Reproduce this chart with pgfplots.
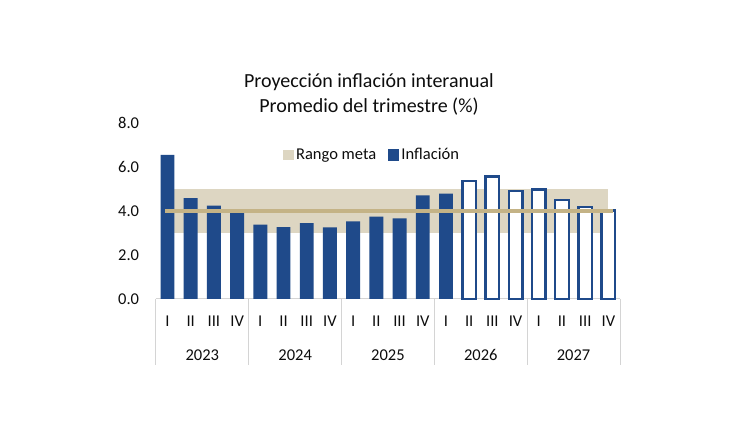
\documentclass[border=0pt]{standalone}
\usepackage{pgfplots}
\pgfplotsset{compat=1.18}
\usepackage{pgfplotstable}
\usepackage{fontspec}
\setmainfont{Carlito}
\definecolor{navy}{HTML}{1F4A8A}
\definecolor{band}{HTML}{DDD6C2}
\definecolor{tline}{HTML}{C4B386}
\definecolor{sepgray}{HTML}{D4D4D4}
\definecolor{txt}{HTML}{0D0D0D}

\pgfplotstableread{
x val
0 6.55
1 4.58
2 4.24
3 3.91
4 3.38
5 3.27
6 3.45
7 3.26
8 3.53
9 3.74
10 3.67
11 4.71
12 4.79
}\actual

\pgfplotstableread{
x val
13 5.37
14 5.56
15 4.90
16 4.97
17 4.49
18 4.17
19 4.02
}\proj

\begin{document}
\begin{tikzpicture}
\path[use as bounding box, fill=white] (0pt,0pt) rectangle (750pt,430pt);
\node[anchor=base, font=\fontsize{20}{24}\selectfont, text=txt] at (369pt,342pt) {Proyección inflación interanual};
\node[anchor=base, font=\fontsize{20}{24}\selectfont, text=txt] at (369pt,317pt) {Promedio del trimestre (\%)};
\begin{axis}[
  at={(155.9pt,131pt)}, anchor=south west,
  scale only axis, width=464.1pt, height=176pt,
  xmin=-0.5, xmax=19.5, ymin=0, ymax=8,
  clip=false,
  /pgf/number format/assume math mode=true,
  ytick={0,2,4,6,8},
  yticklabel={\pgfmathprintnumber[fixed,fixed zerofill,precision=1]{\tick}},
  xtick={0,...,19},
  xticklabels={I,II,III,IV,I,II,III,IV,I,II,III,IV,I,II,III,IV,I,II,III,IV},
  major tick length=0pt,
  axis line style={draw=none},
  tick label style={font=\fontsize{16.5}{18}\selectfont, text=txt},
  yticklabel style={anchor=east, inner sep=0pt, xshift=-16.6pt},
  xticklabel style={anchor=center, inner sep=0pt, yshift=-22.7pt},
  legend columns=2,
  legend style={draw=none, fill=none, at={(axis description cs:0.466,0.818)}, anchor=center,
    font=\fontsize{16.5}{18}\selectfont, text=txt, inner sep=0pt,
    /tikz/every even column/.append style={column sep=10pt}},
]
\draw[sepgray, line width=1pt] (axis cs:-0.5,0) -- (axis cs:19.5,0);
\draw[sepgray, line width=1pt] (axis cs:-0.5,0) -- ++(0pt,-66pt);
\draw[sepgray, line width=1pt] (axis cs:3.5,0) -- ++(0pt,-66pt);
\draw[sepgray, line width=1pt] (axis cs:7.5,0) -- ++(0pt,-66pt);
\draw[sepgray, line width=1pt] (axis cs:11.5,0) -- ++(0pt,-66pt);
\draw[sepgray, line width=1pt] (axis cs:15.5,0) -- ++(0pt,-66pt);
\draw[sepgray, line width=1pt] (axis cs:19.5,0) -- ++(0pt,-66pt);
\node[font=\fontsize{16.5}{18}\selectfont, text=txt] at ([yshift=-56pt]axis cs:1.5,0) {2023};
\node[font=\fontsize{16.5}{18}\selectfont, text=txt] at ([yshift=-56pt]axis cs:5.5,0) {2024};
\node[font=\fontsize{16.5}{18}\selectfont, text=txt] at ([yshift=-56pt]axis cs:9.5,0) {2025};
\node[font=\fontsize{16.5}{18}\selectfont, text=txt] at ([yshift=-56pt]axis cs:13.5,0) {2026};
\node[font=\fontsize{16.5}{18}\selectfont, text=txt] at ([yshift=-56pt]axis cs:17.5,0) {2027};

\addplot[fill=band, draw=none,
  legend image code/.code={\fill[band] (0pt,-5.3pt) rectangle (10.7pt,5.3pt);}]
  coordinates {(0,3) (19,3) (19,5) (0,5)} -- cycle;
\addlegendentry{Rango meta}

\addplot[ybar, bar width=0.6, bar shift=0pt, fill=navy, draw=none,
  legend image code/.code={\fill[navy] (0pt,-5.6pt) rectangle (11.2pt,5.6pt);}]
  table[x=x, y=val] {\actual};
\addlegendentry{Inflación}

\addplot[ybar, bar width=0.58, bar shift=0pt, fill=white, draw=navy, line width=2.4pt, forget plot]
  table[x=x, y=val] {\proj};

\addplot[tline, line width=3.8pt, forget plot] coordinates {(-0.1,4) (19.2,4)};
\end{axis}
\end{tikzpicture}
\end{document}
